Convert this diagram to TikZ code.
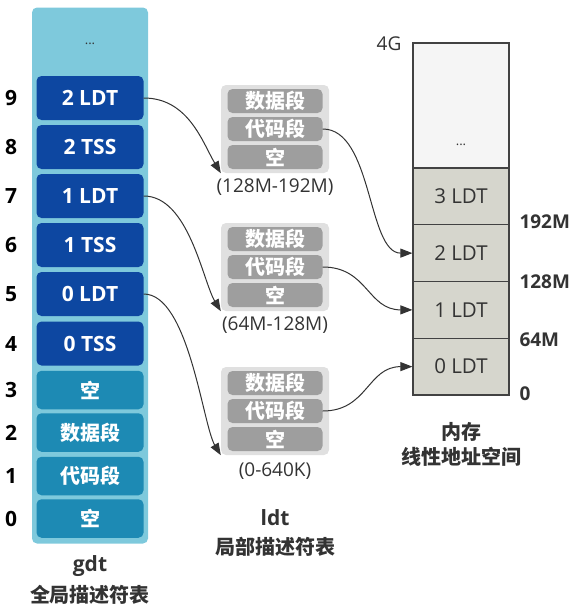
\documentclass[tikz,border=0pt]{standalone}
\usepackage{fontspec}
\setmainfont{Open Sans}
\newfontfamily\cjk{Noto Sans CJK SC}
\usetikzlibrary{arrows.meta}
\definecolor{gdtbg}{HTML}{7EC9DC}
\definecolor{dblue}{HTML}{0D47A1}
\definecolor{lblue}{HTML}{1D8AB4}
\definecolor{ldtbg}{HTML}{E0E0E0}
\definecolor{ldtin}{HTML}{9E9E9E}
\definecolor{memtop}{HTML}{F5F5F5}
\definecolor{memfill}{HTML}{D6D6CD}
\definecolor{memline}{HTML}{424242}
\definecolor{txt}{HTML}{333333}
\tikzset{
  gcont/.style={fill=gdtbg, rounded corners=5pt, inner sep=0pt, minimum width=116pt, minimum height=536pt},
  dbox/.style={fill=dblue, rounded corners=5pt, inner sep=0pt, minimum width=107pt, minimum height=44pt, text=white, font=\fontsize{21}{24}\selectfont\bfseries},
  lbox/.style={fill=lblue, rounded corners=5pt, inner sep=0pt, minimum width=107pt, minimum height=38.5pt, text=white, font=\fontsize{20}{22}\selectfont\bfseries\cjk},
  idx/.style={text=black, font=\fontsize{21}{24}\selectfont\bfseries},
  lcont/.style={fill=ldtbg, rounded corners=5pt, inner sep=0pt, minimum width=108pt, minimum height=88pt},
  lin/.style={fill=ldtin, rounded corners=5pt, inner sep=0pt, minimum width=95pt, minimum height=24pt, text=white, font=\fontsize{20}{22}\selectfont\bfseries\cjk},
  rng/.style={text=txt, font=\fontsize{19}{22}\selectfont},
  mem/.style={draw=memline, line width=1.2pt, fill=memfill, inner sep=0pt, minimum width=96pt, minimum height=56.75pt, text=txt, font=\fontsize{20.5}{23}\selectfont},
  addr/.style={text=txt, font=\fontsize{19}{22}\selectfont\bfseries, anchor=west},
  captxt/.style={text=txt, font=\fontsize{21}{24}\selectfont\bfseries, align=center},
  capcjk/.style={text=txt, font=\fontsize{20}{24}\selectfont\bfseries\cjk, align=center},
  conn/.style={draw=txt, line width=1pt, -{Triangle[length=12pt,width=9pt]}},
}
\begin{document}
\begin{tikzpicture}[x=1pt,y=-1pt]
\useasboundingbox (0,0) rectangle (581,616);
% GDT
\node[gcont] (gdt) at (90,275.5) {};
\node[text=txt, font=\fontsize{13}{14}\selectfont] (gdots) at (90,44) {...};
\node[dbox] (g9) at (90,98) {2 LDT};
\node[dbox] (g8) at (90,147) {2 TSS};
\node[dbox] (g7) at (90,196) {1 LDT};
\node[dbox] (g6) at (90,245) {1 TSS};
\node[dbox] (g5) at (90,294) {0 LDT};
\node[dbox] (g4) at (90,343.5) {0 TSS};
\node[lbox] (g3) at (90,390) {空};
\node[lbox] (g2) at (90,432.5) {数据段};
\node[lbox] (g1) at (90,476) {代码段};
\node[lbox] (g0) at (90,518.5) {空};
\node[idx] (i9) at (11,98) {9};
\node[idx] (i8) at (11,147) {8};
\node[idx] (i7) at (11,196) {7};
\node[idx] (i6) at (11,245) {6};
\node[idx] (i5) at (11,294) {5};
\node[idx] (i4) at (11,343.5) {4};
\node[idx] (i3) at (11,390) {3};
\node[idx] (i2) at (11,432.5) {2};
\node[idx] (i1) at (11,476) {1};
\node[idx] (i0) at (11,518.5) {0};
\node[captxt] (gcap) at (90,566) {gdt};
\node[capcjk] (gcap2) at (90,595) {全局描述符表};
% LDT groups
\node[lcont] (L1) at (275,129) {};
\node[lin] (L1d) at (275,101) {数据段};
\node[lin] (L1c) at (275,129) {代码段};
\node[lin] (L1e) at (275,157) {空};
\node[rng] (L1r) at (275,187) {(128M-192M)};
\node[lcont] (L2) at (275,267) {};
\node[lin] (L2d) at (275,239) {数据段};
\node[lin] (L2c) at (275,267) {代码段};
\node[lin] (L2e) at (275,295) {空};
\node[rng] (L2r) at (275,325) {(64M-128M)};
\node[lcont] (L3) at (275,411) {};
\node[lin] (L3d) at (275,383) {数据段};
\node[lin] (L3c) at (275,411) {代码段};
\node[lin] (L3e) at (275,439) {空};
\node[rng] (L3r) at (275,471) {(0-640K)};
\node[captxt] (lcap) at (275,518) {ldt};
\node[capcjk] (lcap2) at (275,547) {局部描述符表};
% Memory
\node[mem, fill=memtop, minimum height=125pt] (mtop) at (461,105.5) {};
\node[text=txt, font=\fontsize{13}{14}\selectfont] (mdots) at (461,145) {...};
\node[mem] (m3) at (461,196.375) {3 LDT};
\node[mem] (m2) at (461,253.125) {2 LDT};
\node[mem] (m1) at (461,309.875) {1 LDT};
\node[mem] (m0) at (461,366.625) {0 LDT};
\node[text=txt, font=\fontsize{19}{22}\selectfont] (a4g) at (389,44) {4G};
\node[addr] (a192) at (516,222) {192M};
\node[addr] (a128) at (516,282) {128M};
\node[addr] (a64) at (516,340) {64M};
\node[addr] (a0) at (516,394) {0};
\node[capcjk] (mcap) at (461,432) {内存};
\node[capcjk] (mcap2) at (461,457) {线性地址空间};
% connectors
\draw[conn] (g9.east) .. controls +(45,0) and +(-18,-30) .. (L1.south west);
\draw[conn] (g7.east) .. controls +(45,0) and +(-18,-30) .. (L2.south west);
\draw[conn] (g5.east) .. controls +(45,0) and +(-18,-30) .. (L3.south west);
\draw[conn] (L1c.east) .. controls +(50,0) and +(-45,0) .. (m2.west);
\draw[conn] (L2c.east) .. controls +(45,0) and +(-45,0) .. (m1.west);
\draw[conn] (L3c.east) .. controls +(45,0) and +(-45,0) .. (m0.west);
\end{tikzpicture}
\end{document}
